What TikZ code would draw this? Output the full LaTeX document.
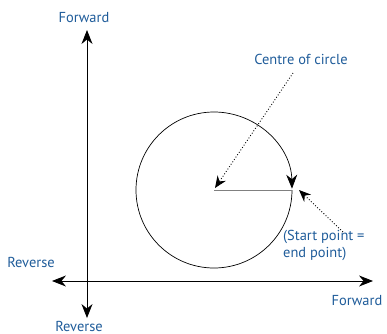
\documentclass[tikz,border=0pt]{standalone}
\usepackage{fontspec}
\setmainfont{PT Sans}
\usetikzlibrary{arrows.meta, positioning, calc}
\definecolor{labelblue}{HTML}{1F5C9A}

\tikzset{
  axis/.style={line width=0.8pt, {Stealth[length=14pt,width=11pt,inset=4.5pt]}-{Stealth[length=14pt,width=11pt,inset=4.5pt]}},
  lbl/.style={text=labelblue, font=\fontsize{14.5}{17}\selectfont, inner sep=1pt},
  pointer/.style={dotted, line width=0.9pt, -{Stealth[length=12pt,width=10pt,inset=4pt]}}
}

\begin{document}
\begin{tikzpicture}[x=1bp, y=-1bp]
  \useasboundingbox (0,0) rectangle (387,334);

  % axes
  \coordinate (vtop) at (87,30);
  \coordinate (vbot) at (87,318);
  \coordinate (hleft) at (52,281);
  \coordinate (hright) at (373,281);
  \draw[axis] (vbot) -- (vtop);
  \draw[axis] (hleft) -- (hright);

  % labels on the axes
  \node[lbl] (fwdup) at (84,18) {Forward};
  \node[lbl] (revdown) at (79,326) {Reverse};
  \node[lbl] (revleft) at (31,262) {Reverse};
  \node[lbl] (fwdright) at (357,301) {Forward};

  % circle, drawn clockwise from the start point
  \coordinate (centre) at (214,190);
  \coordinate (start) at (292,190);
  \draw[line width=0.7pt, -{Stealth[length=14pt,width=11pt,inset=4.5pt]}]
    (start) arc[start angle=0, end angle=359, radius=78];
  \draw[gray, line width=1pt] (centre) -- (start);

  % callouts
  \node[lbl] (centrelbl) at (301,59) {Centre of circle};
  \node[lbl, align=left, anchor=north west] (startlbl) at (282,229) {(Start point =\\end point)};
  \coordinate (tailA) at (293,73);
  \coordinate (tailB) at (343,232);
  \coordinate (tipB) at (299,190);
  \draw[pointer] (tailA) -- ($(centre)+(1,-2)$);
  \draw[pointer] (tailB) -- (tipB);
\end{tikzpicture}
\end{document}
